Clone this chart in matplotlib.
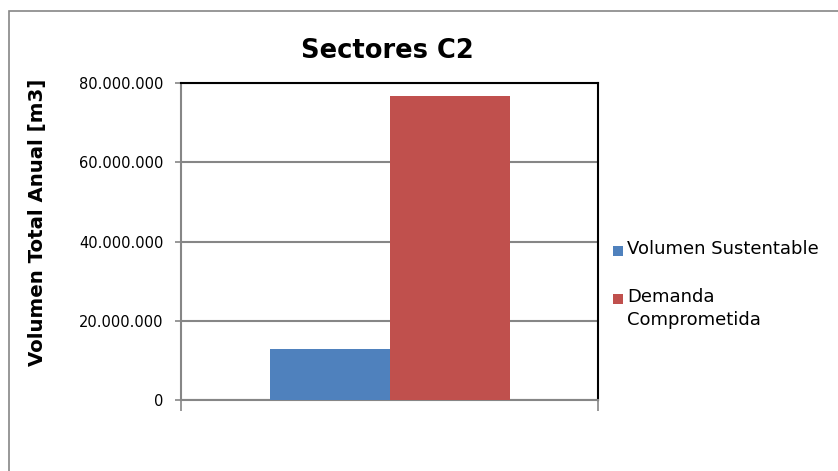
import matplotlib
matplotlib.use("Agg")
import matplotlib.pyplot as plt
from matplotlib.patches import Rectangle
from matplotlib.ticker import FuncFormatter

series = ["Volumen Sustentable", "Demanda\nComprometida"]
values = [12_900_000, 76_700_000]
colors = ["#4F81BD", "#C0504D"]
yticks = [0, 20_000_000, 40_000_000, 60_000_000, 80_000_000]

plt.rcParams['font.family'] = ['DejaVu Sans']
fig = plt.figure(figsize=(8.38, 4.71), dpi=100)
fig.patch.set_facecolor("white")
fig.patches.append(Rectangle((9/838, -0.1), 1.2, 1 - 11/471 + 0.1, transform=fig.transFigure,
                             fill=False, edgecolor="#868686", linewidth=1.2))

ax = fig.add_axes([181/838, 1 - 400/471, 417/838, 317/471])
w = 120/417
offsets = [-w/2, w/2]
for s, v, c, o in zip(series, values, colors, offsets):
    ax.bar(o, v, width=w, color=c, label=s, zorder=3)

ax.set_xlim(-0.5, 0.5)
ax.set_ylim(0, 80_000_000)
ax.set_yticks(yticks)
ax.yaxis.set_major_formatter(FuncFormatter(lambda v, p: f"{int(v):,}".replace(",", ".")))
ax.set_xticks([-0.5, 0.5])
ax.set_xticklabels(["", ""])
ax.tick_params(axis="x", length=8, width=1.2, color="#868686", direction="out")
ax.tick_params(axis="y", length=4.5, width=1.2, color="#868686", labelsize=10.5, pad=8)
ax.grid(axis="y", color="#868686", linewidth=1.5, zorder=0)
for side in ["left", "bottom"]:
    ax.spines[side].set_color("#868686")
    ax.spines[side].set_linewidth(1.5)
for side in ["top", "right"]:
    ax.spines[side].set_color("black")
    ax.spines[side].set_linewidth(1.5)
ax.set_axisbelow(True)

fig.text(387/838, 1 - 51/471, "Sectores C2", ha="center", va="center",
         fontsize=18.5, fontweight="bold")
fig.text(38/838, 1 - 222/471, "Volumen Total Anual [m3]", ha="center", va="center",
         rotation=90, fontsize=14.2, fontweight="bold")

# legend (manual, to match first-line alignment of the markers)
leg_y = [251, 299]
for s, c, y in zip(series, colors, leg_y):
    fig.patches.append(Rectangle((613/838, 1 - (y + 5)/471), 10/838, 10/471,
                                 transform=fig.transFigure, facecolor=c, edgecolor="none"))
    fig.text(627/838, 1 - (y - 11)/471, s, ha="left", va="top", fontsize=13,
             linespacing=1.35)

fig.savefig("out.png", dpi=100)
